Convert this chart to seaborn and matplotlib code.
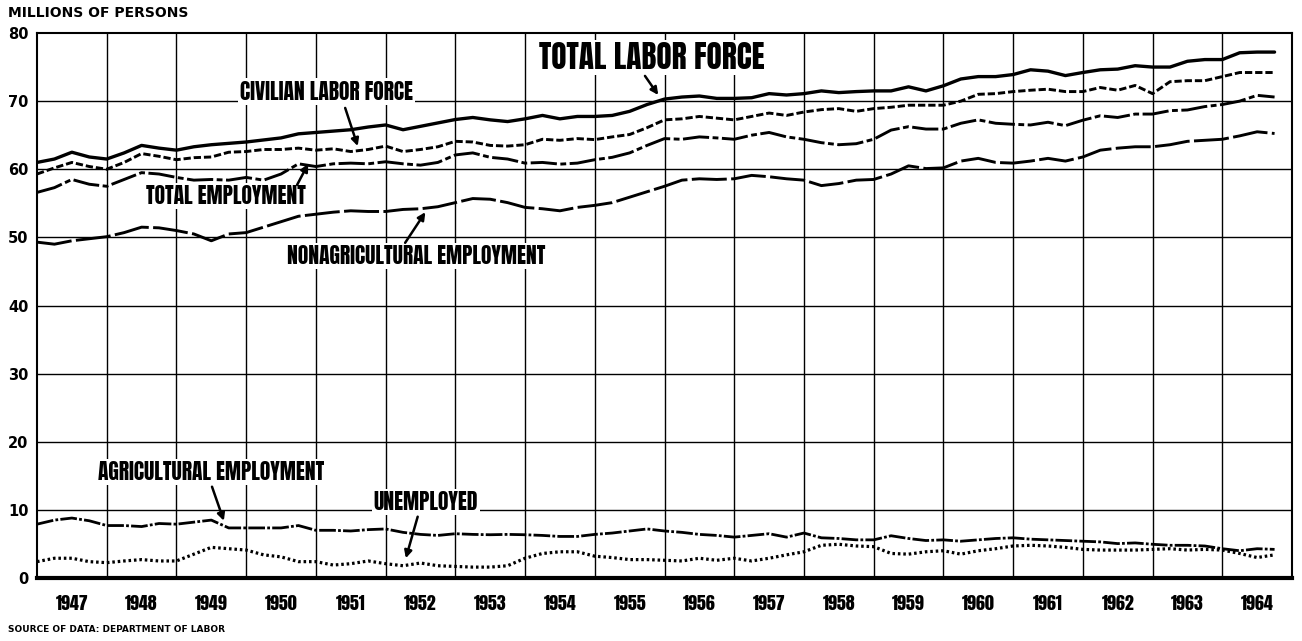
import numpy as np
import pandas as pd
import seaborn as sns
import matplotlib.pyplot as plt
from matplotlib.ticker import FixedLocator, FixedFormatter

# quarterly readings, Jan 1947 .. Oct 1964 (millions of persons)
total_labor_force = [
    61.0, 61.5, 62.5, 61.8, 61.5, 62.4, 63.5, 63.1, 62.8, 63.3, 63.6, 63.8,
    64.0, 64.3, 64.6, 65.2, 65.4, 65.6, 65.8, 66.2, 66.5, 65.8, 66.3, 66.8,
    67.3, 67.6, 67.25, 67.0, 67.4, 67.9, 67.4, 67.75, 67.75, 67.9, 68.5, 69.5,
    70.3, 70.6, 70.75, 70.4, 70.4, 70.5, 71.1, 70.9, 71.1, 71.5, 71.25, 71.4,
    71.5, 71.5, 72.1, 71.5, 72.25, 73.25, 73.6, 73.6, 73.9, 74.6, 74.4, 73.75,
    74.2, 74.6, 74.7, 75.2, 75.0, 75.0, 75.85, 76.1, 76.1, 77.1, 77.2, 77.2,
]
civilian_labor_force = [
    59.3, 60.2, 61.0, 60.4, 60.0, 61.0, 62.3, 61.9, 61.4, 61.7, 61.8, 62.5,
    62.6, 62.9, 62.9, 63.1, 62.8, 63.0, 62.6, 62.9, 63.4, 62.6, 62.9, 63.3,
    64.1, 64.0, 63.5, 63.4, 63.6, 64.4, 64.25, 64.5, 64.35, 64.75, 65.1, 66.1,
    67.25, 67.4, 67.75, 67.5, 67.25, 67.75, 68.25, 67.9, 68.4, 68.75, 68.9, 68.5,
    68.9, 69.1, 69.4, 69.4, 69.4, 70.0, 71.0, 71.1, 71.4, 71.6, 71.75, 71.4,
    71.4, 72.0, 71.6, 72.3, 71.1, 72.85, 73.0, 73.0, 73.6, 74.2, 74.2, 74.2,
]
total_employment = [
    56.6, 57.3, 58.5, 57.8, 57.5, 58.5, 59.5, 59.3, 58.8, 58.4, 58.5, 58.4,
    58.8, 58.4, 59.3, 60.8, 60.4, 60.8, 60.9, 60.8, 61.1, 60.8, 60.6, 61.0,
    62.1, 62.4, 61.75, 61.5, 60.9, 61.0, 60.75, 60.9, 61.4, 61.75, 62.4, 63.5,
    64.5, 64.4, 64.75, 64.6, 64.4, 65.0, 65.4, 64.75, 64.4, 63.9, 63.6, 63.75,
    64.4, 65.75, 66.25, 65.9, 65.9, 66.75, 67.25, 66.75, 66.6, 66.5, 66.9, 66.4,
    67.2, 67.85, 67.6, 68.1, 68.1, 68.6, 68.7, 69.2, 69.5, 70.0, 70.85, 70.6,
]
nonag_employment = [
    49.3, 49.0, 49.5, 49.8, 50.1, 50.7, 51.5, 51.4, 51.0, 50.5, 49.5, 50.5,
    50.7, 51.5, 52.3, 53.1, 53.4, 53.7, 53.9, 53.8, 53.8, 54.1, 54.2, 54.5,
    55.1, 55.7, 55.6, 55.1, 54.4, 54.2, 53.9, 54.4, 54.7, 55.1, 55.9, 56.7,
    57.5, 58.4, 58.6, 58.5, 58.6, 59.1, 58.9, 58.6, 58.4, 57.6, 57.9, 58.4,
    58.5, 59.3, 60.5, 60.1, 60.2, 61.2, 61.6, 61.0, 60.9, 61.2, 61.6, 61.2,
    61.8, 62.8, 63.1, 63.3, 63.3, 63.6, 64.1, 64.25, 64.4, 64.9, 65.5, 65.25,
]
ag_employment = [
    7.9, 8.5, 8.8, 8.4, 7.7, 7.7, 7.55, 8.0, 7.9, 8.2, 8.5, 7.35,
    7.35, 7.35, 7.35, 7.7, 7.0, 7.0, 6.9, 7.1, 7.2, 6.7, 6.4, 6.25,
    6.5, 6.4, 6.35, 6.4, 6.35, 6.25, 6.1, 6.1, 6.4, 6.6, 6.9, 7.2,
    6.9, 6.7, 6.4, 6.25, 6.0, 6.25, 6.5, 6.0, 6.6, 5.9, 5.8, 5.6,
    5.6, 6.2, 5.8, 5.5, 5.6, 5.4, 5.6, 5.8, 5.9, 5.7, 5.6, 5.5,
    5.4, 5.3, 5.05, 5.15, 4.95, 4.8, 4.8, 4.7, 4.3, 4.0, 4.3, 4.2,
]
unemployed = [
    2.4, 2.9, 2.9, 2.4, 2.25, 2.5, 2.7, 2.5, 2.5, 3.5, 4.5, 4.3,
    4.1, 3.4, 3.1, 2.4, 2.4, 1.9, 2.1, 2.5, 2.1, 1.8, 2.2, 1.8,
    1.7, 1.6, 1.6, 1.8, 2.9, 3.6, 3.85, 3.85, 3.2, 3.0, 2.7, 2.7,
    2.6, 2.5, 2.9, 2.6, 2.9, 2.5, 2.9, 3.4, 3.85, 4.8, 4.95, 4.7,
    4.6, 3.6, 3.5, 3.85, 4.0, 3.5, 4.0, 4.3, 4.7, 4.8, 4.7, 4.5,
    4.2, 4.1, 4.1, 4.1, 4.2, 4.3, 4.1, 4.2, 4.1, 3.6, 3.0, 3.4,
]
years = list(range(1947, 1965))

t = 1947 + np.arange(len(total_labor_force)) / 4

sns.set_style('white')
plt.rcParams['font.family'] = ['DejaVu Sans']
plt.rcParams['text.color'] = 'black'
plt.rcParams['xtick.color'] = 'black'
plt.rcParams['ytick.color'] = 'black'
narrow = ['Anton', 'Asap Condensed', 'DejaVu Sans']

fig = plt.figure(figsize=(13.02, 6.41), dpi=100)
ax = fig.add_axes([37 / 1302, 1 - 578 / 641, 1255 / 1302, 545 / 641])

series = [
    (total_labor_force, '-', 2.4),
    (civilian_labor_force, (0, (2.5, 1.0)), 2.1),
    (total_employment, (0, (9, 1.2, 2, 1.2)), 2.1),
    (nonag_employment, (0, (12, 1.5)), 2.1),
    (ag_employment, (0, (6, 0.8, 1, 0.8)), 2.0),
    (unemployed, (0, (0.8, 0.9)), 2.3),
]
for vals, ls, lw in series:
    sns.lineplot(x=t, y=vals, ax=ax, color='black', linestyle=ls, linewidth=lw,
                 zorder=3)

ax.set_xlim(1947, 1965)
ax.set_ylim(0, 80)

# grid
for y in range(10, 80, 10):
    ax.axhline(y, color='black', lw=1.0, zorder=1)
for yr in years[1:]:
    ax.axvline(yr, color='black', lw=1.0, zorder=1)

for side in ['top', 'left', 'right']:
    ax.spines[side].set_linewidth(1.5)
    ax.spines[side].set_color('black')
ax.spines['bottom'].set_linewidth(3)
ax.spines['bottom'].set_color('black')

# y ticks
ax.set_yticks(range(0, 81, 10))
ax.set_yticklabels([str(v) for v in range(0, 81, 10)], fontsize=10.5,
                   fontweight='bold')
ax.tick_params(axis='y', length=0, pad=6)

# x ticks: quarters (long) and months (short), year labels at mid-year
quarters = [1947 + q / 4 for q in range(1, 72)]
q_labels = ['' for _ in quarters]
for i, q in enumerate(quarters):
    if abs(q - round(q - 0.5) - 0.5) < 1e-9:
        q_labels[i] = str(int(q))
ax.xaxis.set_major_locator(FixedLocator(quarters))
ax.xaxis.set_major_formatter(FixedFormatter(q_labels))
ax.xaxis.set_minor_locator(FixedLocator([1947 + m / 12 for m in range(1, 216)]))
ax.tick_params(axis='x', which='major', direction='in', length=7, width=1,
               pad=12, labelsize=13)
ax.tick_params(axis='x', which='minor', direction='in', length=3.5, width=1)
for lab in ax.get_xticklabels():
    lab.set_family(narrow)
ax.set_xlabel('')
ax.set_ylabel('')

box = dict(facecolor='white', edgecolor='none', pad=1.5)
arrow = dict(arrowstyle='-|>', color='black', lw=1.8, mutation_scale=11,
             shrinkA=0, shrinkB=0)

labels = [
    ('TOTAL LABOR FORCE', 1955.82, 76.4, 1955.72, 73.7, 1955.91, 70.9, 22.5),
    ('CIVILIAN LABOR FORCE', 1951.15, 71.4, 1951.42, 69.0, 1951.60, 63.4, 15.5),
    ('TOTAL EMPLOYMENT', 1949.71, 56.1, 1950.73, 57.7, 1950.89, 60.8, 15.5),
    ('NONAGRICULTURAL EMPLOYMENT', 1952.44, 47.3, 1952.28, 49.2, 1952.57, 53.7, 15.5),
    ('AGRICULTURAL EMPLOYMENT', 1949.50, 15.6, 1949.51, 13.4, 1949.68, 8.4, 15.5),
    ('UNEMPLOYED', 1952.58, 11.2, 1952.46, 9.0, 1952.29, 2.9, 15.5),
]
for text, tx, ty, ax0, ay0, ax1, ay1, size in labels:
    ax.text(tx, ty, text, ha='center', va='center', fontsize=size,
            family=narrow, bbox=box, zorder=4)
    ax.annotate('', xy=(ax1, ay1), xytext=(ax0, ay0), arrowprops=arrow,
                zorder=5)

fig.text(8 / 1302, 1 - 13 / 641, 'MILLIONS OF PERSONS', fontsize=10,
         fontweight='bold', va='center', ha='left')
fig.text(8 / 1302, 1 - 630 / 641, 'SOURCE OF DATA: DEPARTMENT OF LABOR',
         fontsize=6.5, fontweight='bold', va='center', ha='left')

fig.savefig('out.png', dpi=100, facecolor='white')
